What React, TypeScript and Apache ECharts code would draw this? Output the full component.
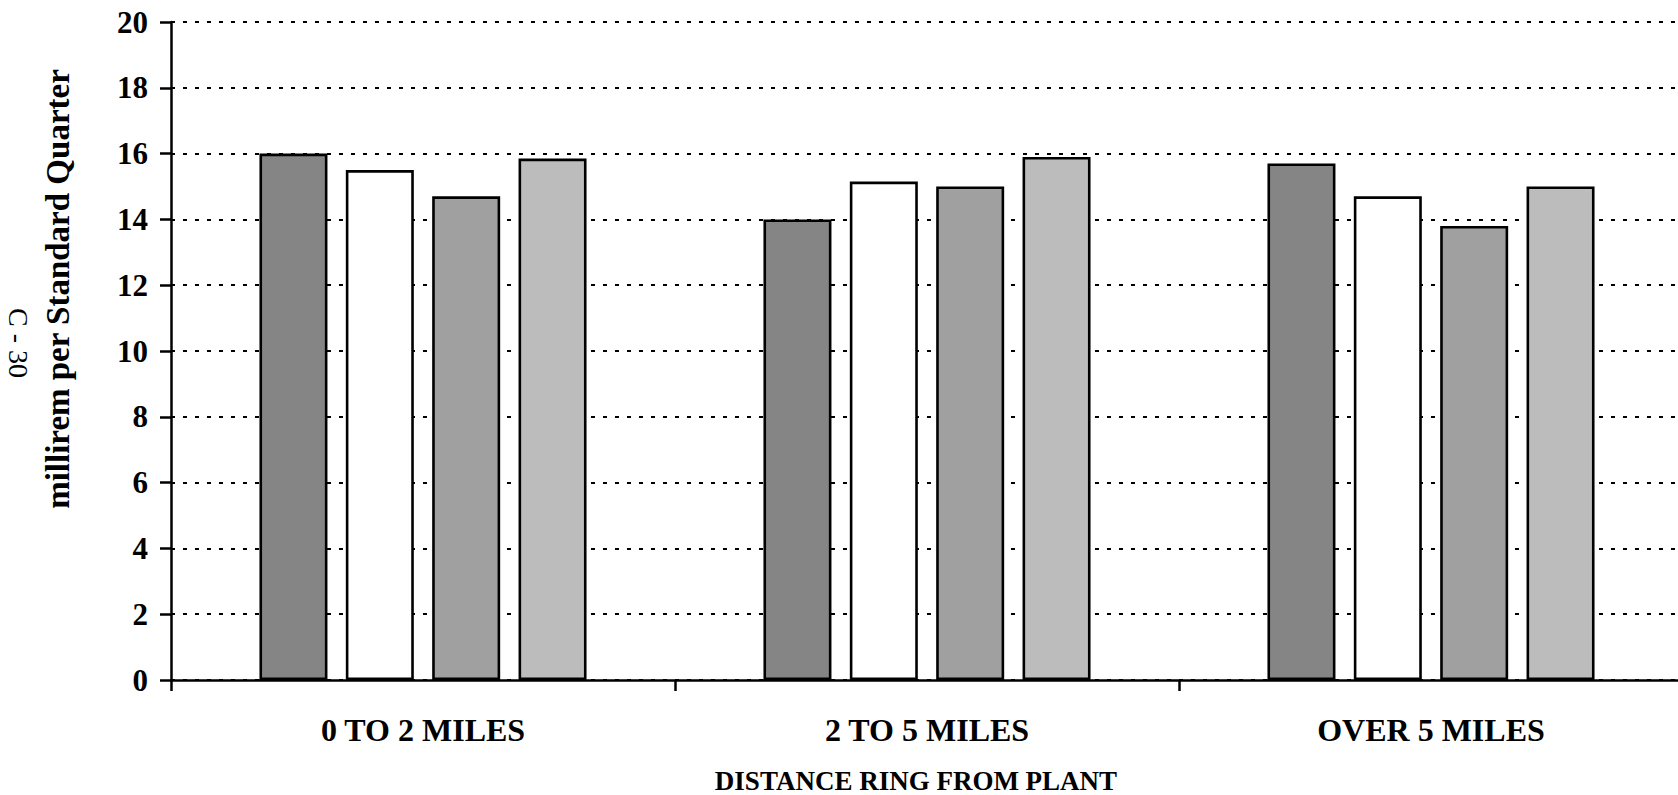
import React, { useEffect, useRef } from "react";
import * as echarts from "echarts";

const categories = ["0 TO 2 MILES", "2 TO 5 MILES", "OVER 5 MILES"];
const seriesNames = ["Series 1", "Series 2", "Series 3", "Series 4"];
const series1 = [16.0, 14.0, 15.7];
const series2 = [15.5, 15.15, 14.7];
const series3 = [14.7, 15.0, 13.8];
const series4 = [15.85, 15.9, 15.0];
const seriesColors = ["#858585", "#ffffff", "#a0a0a0", "#bcbcbc"];
const yMin = 0;
const yMax = 20;
const yInterval = 2;
const yTitle = "millirem per Standard Quarter";
const xTitle = "DISTANCE RING FROM PLANT";
const pageLabel = "C - 30";

const FONT = "'Times New Roman', 'Liberation Serif', serif";

export default function App() {
  const ref = useRef<HTMLDivElement>(null);

  useEffect(() => {
    document.body.style.margin = "0";
    if (!ref.current) return;
    const chart = echarts.init(ref.current, undefined, { renderer: "svg" });
    const data = [series1, series2, series3, series4];
    chart.setOption({
      animation: false,
      backgroundColor: "#ffffff",
      grid: { left: 171, right: 17, top: 22, bottom: 115, containLabel: false },
      xAxis: {
        type: "category",
        data: categories,
        axisLine: { show: true, lineStyle: { color: "#000", width: 2.5 } },
        axisTick: { show: true, length: 11, lineStyle: { color: "#000", width: 2.5 } },
        axisLabel: {
          color: "#000",
          fontFamily: FONT,
          fontWeight: "bold",
          fontSize: 32,
          margin: 34,
        },
        splitLine: { show: false },
      },
      yAxis: {
        type: "value",
        min: yMin,
        max: yMax,
        interval: yInterval,
        axisLine: { show: true, lineStyle: { color: "#000", width: 2.5 } },
        axisTick: { show: true, length: 11, lineStyle: { color: "#000", width: 2.5 } },
        axisLabel: {
          color: "#000",
          fontFamily: FONT,
          fontWeight: "bold",
          fontSize: 31,
          margin: 23,
        },
        splitLine: {
          show: true,
          lineStyle: { color: "#000", width: 2.2, type: [4, 8] },
        },
      },
      series: data.map((d, i) => ({
        name: seriesNames[i],
        type: "bar",
        data: d,
        barWidth: 68,
        barGap: "27%",
        itemStyle: {
          color: seriesColors[i],
          borderColor: "#000",
          borderWidth: 2.6,
        },
      })),
      graphic: [
        {
          type: "text",
          x: 58,
          y: 289,
          rotation: Math.PI / 2,
          style: {
            text: yTitle,
            fill: "#000",
            font: `bold 33px ${FONT}`,
            textAlign: "center",
            textVerticalAlign: "middle",
          },
        },
        {
          type: "text",
          x: 18,
          y: 343,
          rotation: -Math.PI / 2,
          style: {
            text: pageLabel,
            fill: "#000",
            font: `28px ${FONT}`,
            textAlign: "center",
            textVerticalAlign: "middle",
          },
        },
        {
          type: "text",
          x: 916,
          y: 781,
          style: {
            text: xTitle,
            fill: "#000",
            font: `bold 27px ${FONT}`,
            textAlign: "center",
            textVerticalAlign: "middle",
          },
        },
      ],
    });
    return () => chart.dispose();
  }, []);

  return (
    <div style={{ width: 1678, height: 795, overflow: "hidden", position: "relative" }}>
      <div ref={ref} style={{ width: 1700, height: 795 }} />
    </div>
  );
}
